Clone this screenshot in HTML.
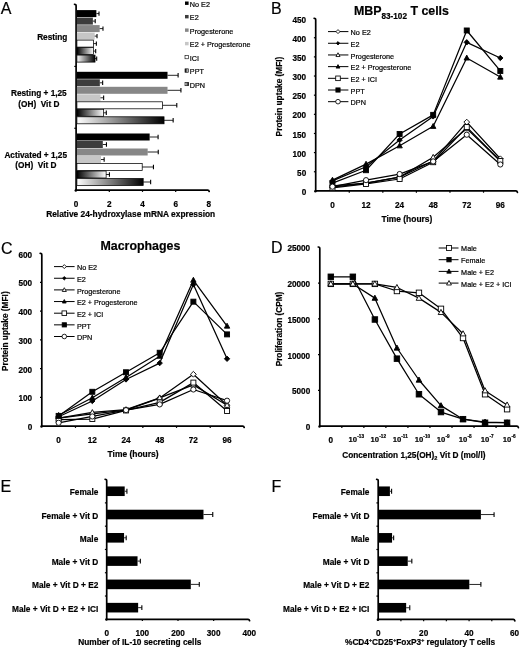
<!DOCTYPE html>
<html><head><meta charset="utf-8"><style>
html,body{margin:0;padding:0;background:#fff;width:520px;height:647px;overflow:hidden}
svg{display:block;filter:blur(0.3px)}
text{font-family:"Liberation Sans", sans-serif;fill:#000;stroke:#000;stroke-width:0.2px}
</style></head><body>
<svg width="520" height="647" viewBox="0 0 520 647">
<defs>
<linearGradient id="gPPT" x1="0" x2="1" y1="0" y2="0"><stop offset="0" stop-color="#000"/><stop offset="1" stop-color="#fff"/></linearGradient>
<linearGradient id="gDPN" x1="0" x2="1" y1="0" y2="0"><stop offset="0" stop-color="#fff"/><stop offset="1" stop-color="#000"/></linearGradient>
</defs>
<text x="0.80" y="14.30" font-size="16" text-anchor="start">A</text>
<path d="M74.50,4.30 Q76.10,4.20 76.10,5.80 L76.10,190.10" fill="none" stroke="#000" stroke-width="1.7" stroke-linejoin="round" stroke-linecap="round"/>
<path d="M76.10,190.10 L207.70,190.10 Q208.90,190.10 209.20,191.50" fill="none" stroke="#000" stroke-width="1.7" stroke-linejoin="round" stroke-linecap="round"/>
<circle cx="75.80" cy="190.40" r="1.25" fill="#000"/>
<line x1="74.30" y1="66.43" x2="76.10" y2="66.43" stroke="#000" stroke-width="1.2"/>
<line x1="74.30" y1="128.27" x2="76.10" y2="128.27" stroke="#000" stroke-width="1.2"/>
<line x1="109.30" y1="190.10" x2="109.30" y2="191.90" stroke="#000" stroke-width="1.2"/>
<line x1="142.50" y1="190.10" x2="142.50" y2="191.90" stroke="#000" stroke-width="1.2"/>
<line x1="175.70" y1="190.10" x2="175.70" y2="191.90" stroke="#000" stroke-width="1.2"/>
<text x="76.10" y="206.95" font-size="8.2" font-weight="bold" text-anchor="middle">0</text>
<text x="109.30" y="206.95" font-size="8.2" font-weight="bold" text-anchor="middle">2</text>
<text x="142.50" y="206.95" font-size="8.2" font-weight="bold" text-anchor="middle">4</text>
<text x="175.70" y="206.95" font-size="8.2" font-weight="bold" text-anchor="middle">6</text>
<text x="208.90" y="206.95" font-size="8.2" font-weight="bold" text-anchor="middle">8</text>
<text x="130.70" y="217.31" font-size="8.36" font-weight="bold" text-anchor="middle">Relative 24-hydroxylase mRNA expression</text>
<text x="52.30" y="39.57" font-size="8.25" font-weight="bold" text-anchor="middle">Resting</text>
<text x="38.85" y="96.17" font-size="8.25" font-weight="bold" text-anchor="middle">Resting + 1,25</text>
<text x="38.85" y="107.07" font-size="8.25" font-weight="bold" text-anchor="middle">(OH)&#160; Vit D</text>
<text x="35.70" y="158.27" font-size="8.25" font-weight="bold" text-anchor="middle">Activated + 1,25</text>
<text x="35.90" y="168.37" font-size="8.25" font-weight="bold" text-anchor="middle">(OH)&#160; Vit D</text>
<rect x="76.90" y="10.10" width="19.46" height="7.00" fill="#000"/>
<line x1="96.36" y1="13.60" x2="99.00" y2="13.60" stroke="#000" stroke-width="0.85"/>
<line x1="99.00" y1="11.40" x2="99.00" y2="15.80" stroke="#000" stroke-width="1.1"/>
<rect x="76.90" y="17.60" width="15.98" height="7.00" fill="#3c3c3c"/>
<line x1="92.88" y1="21.10" x2="95.20" y2="21.10" stroke="#000" stroke-width="0.85"/>
<line x1="95.20" y1="18.90" x2="95.20" y2="23.30" stroke="#000" stroke-width="1.1"/>
<rect x="76.90" y="25.10" width="22.77" height="7.00" fill="#878787"/>
<line x1="99.67" y1="28.60" x2="102.98" y2="28.60" stroke="#000" stroke-width="0.85"/>
<line x1="102.98" y1="26.40" x2="102.98" y2="30.80" stroke="#000" stroke-width="1.1"/>
<rect x="76.90" y="32.60" width="17.80" height="7.00" fill="#c6c6c6"/>
<line x1="94.70" y1="36.10" x2="97.02" y2="36.10" stroke="#000" stroke-width="0.85"/>
<line x1="97.02" y1="33.90" x2="97.02" y2="38.30" stroke="#000" stroke-width="1.1"/>
<rect x="76.90" y="40.10" width="16.64" height="7.00" fill="#fff" stroke="#000" stroke-width="0.75"/>
<line x1="93.54" y1="43.60" x2="96.36" y2="43.60" stroke="#000" stroke-width="0.85"/>
<line x1="96.36" y1="41.40" x2="96.36" y2="45.80" stroke="#000" stroke-width="1.1"/>
<rect x="76.90" y="47.60" width="16.64" height="7.00" fill="url(#gPPT)" stroke="#000" stroke-width="0.75"/>
<line x1="93.54" y1="51.10" x2="95.69" y2="51.10" stroke="#000" stroke-width="0.85"/>
<line x1="95.69" y1="48.90" x2="95.69" y2="53.30" stroke="#000" stroke-width="1.1"/>
<rect x="76.90" y="55.10" width="18.13" height="7.00" fill="url(#gDPN)" stroke="#000" stroke-width="0.75"/>
<line x1="95.03" y1="58.60" x2="96.69" y2="58.60" stroke="#000" stroke-width="0.85"/>
<line x1="96.69" y1="56.40" x2="96.69" y2="60.80" stroke="#000" stroke-width="1.1"/>
<rect x="76.90" y="71.80" width="90.62" height="7.00" fill="#000"/>
<line x1="167.52" y1="75.30" x2="178.11" y2="75.30" stroke="#000" stroke-width="0.85"/>
<line x1="178.11" y1="73.10" x2="178.11" y2="77.50" stroke="#000" stroke-width="1.1"/>
<rect x="76.90" y="79.30" width="22.93" height="7.00" fill="#3c3c3c"/>
<line x1="99.83" y1="82.80" x2="102.65" y2="82.80" stroke="#000" stroke-width="0.85"/>
<line x1="102.65" y1="80.60" x2="102.65" y2="85.00" stroke="#000" stroke-width="1.1"/>
<rect x="76.90" y="86.80" width="90.62" height="7.00" fill="#878787"/>
<line x1="167.52" y1="90.30" x2="180.93" y2="90.30" stroke="#000" stroke-width="0.85"/>
<line x1="180.93" y1="88.10" x2="180.93" y2="92.50" stroke="#000" stroke-width="1.1"/>
<rect x="76.90" y="94.30" width="23.59" height="7.00" fill="#c6c6c6"/>
<line x1="100.49" y1="97.80" x2="103.64" y2="97.80" stroke="#000" stroke-width="0.85"/>
<line x1="103.64" y1="95.60" x2="103.64" y2="100.00" stroke="#000" stroke-width="1.1"/>
<rect x="76.90" y="101.80" width="85.66" height="7.00" fill="#fff" stroke="#000" stroke-width="0.75"/>
<line x1="162.56" y1="105.30" x2="176.79" y2="105.30" stroke="#000" stroke-width="0.85"/>
<line x1="176.79" y1="103.10" x2="176.79" y2="107.50" stroke="#000" stroke-width="1.1"/>
<rect x="76.90" y="109.30" width="26.74" height="7.00" fill="url(#gPPT)" stroke="#000" stroke-width="0.75"/>
<line x1="103.64" y1="112.80" x2="106.29" y2="112.80" stroke="#000" stroke-width="0.85"/>
<line x1="106.29" y1="110.60" x2="106.29" y2="115.00" stroke="#000" stroke-width="1.1"/>
<rect x="76.90" y="116.80" width="87.15" height="7.00" fill="url(#gDPN)" stroke="#000" stroke-width="0.75"/>
<line x1="164.05" y1="120.30" x2="173.15" y2="120.30" stroke="#000" stroke-width="0.85"/>
<line x1="173.15" y1="118.10" x2="173.15" y2="122.50" stroke="#000" stroke-width="1.1"/>
<rect x="76.90" y="133.50" width="72.75" height="7.00" fill="#000"/>
<line x1="149.65" y1="137.00" x2="158.09" y2="137.00" stroke="#000" stroke-width="0.85"/>
<line x1="158.09" y1="134.80" x2="158.09" y2="139.20" stroke="#000" stroke-width="1.1"/>
<rect x="76.90" y="141.00" width="25.91" height="7.00" fill="#3c3c3c"/>
<line x1="102.81" y1="144.50" x2="106.45" y2="144.50" stroke="#000" stroke-width="0.85"/>
<line x1="106.45" y1="142.30" x2="106.45" y2="146.70" stroke="#000" stroke-width="1.1"/>
<rect x="76.90" y="148.50" width="70.76" height="7.00" fill="#878787"/>
<line x1="147.66" y1="152.00" x2="158.25" y2="152.00" stroke="#000" stroke-width="0.85"/>
<line x1="158.25" y1="149.80" x2="158.25" y2="154.20" stroke="#000" stroke-width="1.1"/>
<rect x="76.90" y="156.00" width="24.09" height="7.00" fill="#c6c6c6"/>
<line x1="100.99" y1="159.50" x2="104.14" y2="159.50" stroke="#000" stroke-width="0.85"/>
<line x1="104.14" y1="157.30" x2="104.14" y2="161.70" stroke="#000" stroke-width="1.1"/>
<rect x="76.90" y="163.50" width="65.30" height="7.00" fill="#fff" stroke="#000" stroke-width="0.75"/>
<line x1="142.20" y1="167.00" x2="153.45" y2="167.00" stroke="#000" stroke-width="0.85"/>
<line x1="153.45" y1="164.80" x2="153.45" y2="169.20" stroke="#000" stroke-width="1.1"/>
<rect x="76.90" y="171.00" width="29.22" height="7.00" fill="url(#gPPT)" stroke="#000" stroke-width="0.75"/>
<line x1="106.12" y1="174.50" x2="109.43" y2="174.50" stroke="#000" stroke-width="0.85"/>
<line x1="109.43" y1="172.30" x2="109.43" y2="176.70" stroke="#000" stroke-width="1.1"/>
<rect x="76.90" y="178.50" width="66.29" height="7.00" fill="url(#gDPN)" stroke="#000" stroke-width="0.75"/>
<line x1="143.19" y1="182.00" x2="150.64" y2="182.00" stroke="#000" stroke-width="0.85"/>
<line x1="150.64" y1="179.80" x2="150.64" y2="184.20" stroke="#000" stroke-width="1.1"/>
<rect x="185.0" y="1.50" width="3.6" height="3.4" fill="#000"/>
<text x="189.80" y="6.80" font-size="7.25" text-anchor="start">No E2</text>
<rect x="185.0" y="14.97" width="3.6" height="3.4" fill="#3c3c3c"/>
<text x="189.80" y="20.27" font-size="7.25" text-anchor="start">E2</text>
<rect x="185.0" y="28.44" width="3.6" height="3.4" fill="#878787"/>
<text x="189.80" y="33.74" font-size="7.25" text-anchor="start">Progesterone</text>
<rect x="185.0" y="41.91" width="3.6" height="3.4" fill="#c6c6c6"/>
<text x="189.80" y="47.21" font-size="7.25" text-anchor="start">E2 + Progesterone</text>
<rect x="185.0" y="55.38" width="3.6" height="3.4" fill="#fff" stroke="#000" stroke-width="0.6"/>
<text x="189.80" y="60.68" font-size="7.25" text-anchor="start">ICI</text>
<rect x="185.0" y="68.85" width="3.6" height="3.4" fill="url(#gPPT)" stroke="#000" stroke-width="0.6"/>
<text x="189.80" y="74.15" font-size="7.25" text-anchor="start">PPT</text>
<rect x="185.0" y="82.32" width="3.6" height="3.4" fill="url(#gDPN)" stroke="#000" stroke-width="0.6"/>
<text x="189.80" y="87.62" font-size="7.25" text-anchor="start">DPN</text>
<text x="271.00" y="13.90" font-size="16" text-anchor="start">B</text>
<text x="353.9" y="14.9" font-size="12.4" font-weight="bold">MBP<tspan font-size="8.2" dy="3.6">83-102</tspan><tspan dy="-3.6"> T cells</tspan></text>
<path d="M314.10,18.30 Q315.70,18.20 315.70,19.80 L315.70,190.90" fill="none" stroke="#000" stroke-width="1.7" stroke-linejoin="round" stroke-linecap="round"/>
<path d="M315.70,190.90 L515.90,190.90 Q517.10,190.90 517.40,192.30" fill="none" stroke="#000" stroke-width="1.7" stroke-linejoin="round" stroke-linecap="round"/>
<circle cx="315.40" cy="191.20" r="1.25" fill="#000"/>
<text x="306.20" y="194.95" font-size="8.2" font-weight="bold" text-anchor="end">0</text>
<line x1="313.90" y1="171.76" x2="315.70" y2="171.76" stroke="#000" stroke-width="1.2"/>
<text x="306.20" y="175.81" font-size="8.2" font-weight="bold" text-anchor="end">50</text>
<line x1="313.90" y1="152.61" x2="315.70" y2="152.61" stroke="#000" stroke-width="1.2"/>
<text x="306.20" y="156.66" font-size="8.2" font-weight="bold" text-anchor="end">100</text>
<line x1="313.90" y1="133.47" x2="315.70" y2="133.47" stroke="#000" stroke-width="1.2"/>
<text x="306.20" y="137.52" font-size="8.2" font-weight="bold" text-anchor="end">150</text>
<line x1="313.90" y1="114.32" x2="315.70" y2="114.32" stroke="#000" stroke-width="1.2"/>
<text x="306.20" y="118.37" font-size="8.2" font-weight="bold" text-anchor="end">200</text>
<line x1="313.90" y1="95.18" x2="315.70" y2="95.18" stroke="#000" stroke-width="1.2"/>
<text x="306.20" y="99.23" font-size="8.2" font-weight="bold" text-anchor="end">250</text>
<line x1="313.90" y1="76.03" x2="315.70" y2="76.03" stroke="#000" stroke-width="1.2"/>
<text x="306.20" y="80.09" font-size="8.2" font-weight="bold" text-anchor="end">300</text>
<line x1="313.90" y1="56.89" x2="315.70" y2="56.89" stroke="#000" stroke-width="1.2"/>
<text x="306.20" y="60.94" font-size="8.2" font-weight="bold" text-anchor="end">350</text>
<line x1="313.90" y1="37.74" x2="315.70" y2="37.74" stroke="#000" stroke-width="1.2"/>
<text x="306.20" y="41.80" font-size="8.2" font-weight="bold" text-anchor="end">400</text>
<text x="306.20" y="22.65" font-size="8.2" font-weight="bold" text-anchor="end">450</text>
<line x1="349.27" y1="190.90" x2="349.27" y2="192.70" stroke="#000" stroke-width="1.2"/>
<line x1="382.83" y1="190.90" x2="382.83" y2="192.70" stroke="#000" stroke-width="1.2"/>
<line x1="416.40" y1="190.90" x2="416.40" y2="192.70" stroke="#000" stroke-width="1.2"/>
<line x1="449.97" y1="190.90" x2="449.97" y2="192.70" stroke="#000" stroke-width="1.2"/>
<line x1="483.53" y1="190.90" x2="483.53" y2="192.70" stroke="#000" stroke-width="1.2"/>
<polyline points="332.48,187.02 366.05,183.20 399.62,177.09 433.18,161.06 466.75,122.11 500.32,158.77" fill="none" stroke="#000" stroke-width="1.25" stroke-linejoin="round"/>
<polyline points="332.48,180.91 366.05,166.78 399.62,140.06 433.18,116.39 466.75,42.32 500.32,57.97" fill="none" stroke="#000" stroke-width="1.25" stroke-linejoin="round"/>
<polyline points="332.48,185.87 366.05,183.20 399.62,177.09 433.18,157.24 466.75,128.60 500.32,161.06" fill="none" stroke="#000" stroke-width="1.25" stroke-linejoin="round"/>
<polyline points="332.48,180.15 366.05,164.11 399.62,145.78 433.18,126.31 466.75,57.97 500.32,77.06" fill="none" stroke="#000" stroke-width="1.25" stroke-linejoin="round"/>
<polyline points="332.48,187.78 366.05,183.96 399.62,179.00 433.18,162.20 466.75,127.08 500.32,161.06" fill="none" stroke="#000" stroke-width="1.25" stroke-linejoin="round"/>
<polyline points="332.48,183.20 366.05,170.22 399.62,133.95 433.18,114.86 466.75,30.48 500.32,70.95" fill="none" stroke="#000" stroke-width="1.25" stroke-linejoin="round"/>
<polyline points="332.48,186.64 366.05,180.15 399.62,174.04 433.18,161.44 466.75,134.71 500.32,164.49" fill="none" stroke="#000" stroke-width="1.25" stroke-linejoin="round"/>
<polygon points="332.48,184.12 335.38,187.02 332.48,189.92 329.58,187.02" fill="#fff" stroke="#000" stroke-width="0.9"/>
<polygon points="366.05,180.30 368.95,183.20 366.05,186.10 363.15,183.20" fill="#fff" stroke="#000" stroke-width="0.9"/>
<polygon points="399.62,174.19 402.52,177.09 399.62,179.99 396.72,177.09" fill="#fff" stroke="#000" stroke-width="0.9"/>
<polygon points="433.18,158.16 436.08,161.06 433.18,163.96 430.28,161.06" fill="#fff" stroke="#000" stroke-width="0.9"/>
<polygon points="466.75,119.21 469.65,122.11 466.75,125.01 463.85,122.11" fill="#fff" stroke="#000" stroke-width="0.9"/>
<polygon points="500.32,155.87 503.22,158.77 500.32,161.67 497.42,158.77" fill="#fff" stroke="#000" stroke-width="0.9"/>
<polygon points="332.48,178.21 335.18,180.91 332.48,183.61 329.78,180.91" fill="#000" stroke="#000" stroke-width="0.9"/>
<polygon points="366.05,164.08 368.75,166.78 366.05,169.48 363.35,166.78" fill="#000" stroke="#000" stroke-width="0.9"/>
<polygon points="399.62,137.36 402.32,140.06 399.62,142.76 396.92,140.06" fill="#000" stroke="#000" stroke-width="0.9"/>
<polygon points="433.18,113.69 435.88,116.39 433.18,119.09 430.48,116.39" fill="#000" stroke="#000" stroke-width="0.9"/>
<polygon points="466.75,39.62 469.45,42.32 466.75,45.02 464.05,42.32" fill="#000" stroke="#000" stroke-width="0.9"/>
<polygon points="500.32,55.27 503.02,57.97 500.32,60.67 497.62,57.97" fill="#000" stroke="#000" stroke-width="0.9"/>
<polygon points="332.48,182.99 335.18,187.96 329.78,187.96" fill="#fff" stroke="#000" stroke-width="0.9" stroke-linejoin="miter"/>
<polygon points="366.05,180.32 368.75,185.29 363.35,185.29" fill="#fff" stroke="#000" stroke-width="0.9" stroke-linejoin="miter"/>
<polygon points="399.62,174.21 402.32,179.18 396.92,179.18" fill="#fff" stroke="#000" stroke-width="0.9" stroke-linejoin="miter"/>
<polygon points="433.18,154.36 435.88,159.32 430.48,159.32" fill="#fff" stroke="#000" stroke-width="0.9" stroke-linejoin="miter"/>
<polygon points="466.75,125.72 469.45,130.69 464.05,130.69" fill="#fff" stroke="#000" stroke-width="0.9" stroke-linejoin="miter"/>
<polygon points="500.32,158.17 503.02,163.14 497.62,163.14" fill="#fff" stroke="#000" stroke-width="0.9" stroke-linejoin="miter"/>
<polygon points="332.48,177.26 335.18,182.23 329.78,182.23" fill="#000" stroke="#000" stroke-width="0.9" stroke-linejoin="miter"/>
<polygon points="366.05,161.23 368.75,166.20 363.35,166.20" fill="#000" stroke="#000" stroke-width="0.9" stroke-linejoin="miter"/>
<polygon points="399.62,142.90 402.32,147.87 396.92,147.87" fill="#000" stroke="#000" stroke-width="0.9" stroke-linejoin="miter"/>
<polygon points="433.18,123.43 435.88,128.40 430.48,128.40" fill="#000" stroke="#000" stroke-width="0.9" stroke-linejoin="miter"/>
<polygon points="466.75,55.09 469.45,60.06 464.05,60.06" fill="#000" stroke="#000" stroke-width="0.9" stroke-linejoin="miter"/>
<polygon points="500.32,74.18 503.02,79.15 497.62,79.15" fill="#000" stroke="#000" stroke-width="0.9" stroke-linejoin="miter"/>
<rect x="329.98" y="185.28" width="5.00" height="5.00" fill="#fff" stroke="#000" stroke-width="0.9"/>
<rect x="363.55" y="181.46" width="5.00" height="5.00" fill="#fff" stroke="#000" stroke-width="0.9"/>
<rect x="397.12" y="176.50" width="5.00" height="5.00" fill="#fff" stroke="#000" stroke-width="0.9"/>
<rect x="430.68" y="159.70" width="5.00" height="5.00" fill="#fff" stroke="#000" stroke-width="0.9"/>
<rect x="464.25" y="124.58" width="5.00" height="5.00" fill="#fff" stroke="#000" stroke-width="0.9"/>
<rect x="497.82" y="158.56" width="5.00" height="5.00" fill="#fff" stroke="#000" stroke-width="0.9"/>
<rect x="329.98" y="180.70" width="5.00" height="5.00" fill="#000" stroke="#000" stroke-width="0.9"/>
<rect x="363.55" y="167.72" width="5.00" height="5.00" fill="#000" stroke="#000" stroke-width="0.9"/>
<rect x="397.12" y="131.45" width="5.00" height="5.00" fill="#000" stroke="#000" stroke-width="0.9"/>
<rect x="430.68" y="112.36" width="5.00" height="5.00" fill="#000" stroke="#000" stroke-width="0.9"/>
<rect x="464.25" y="27.98" width="5.00" height="5.00" fill="#000" stroke="#000" stroke-width="0.9"/>
<rect x="497.82" y="68.45" width="5.00" height="5.00" fill="#000" stroke="#000" stroke-width="0.9"/>
<circle cx="332.48" cy="186.64" r="2.60" fill="#fff" stroke="#000" stroke-width="0.9"/>
<circle cx="366.05" cy="180.15" r="2.60" fill="#fff" stroke="#000" stroke-width="0.9"/>
<circle cx="399.62" cy="174.04" r="2.60" fill="#fff" stroke="#000" stroke-width="0.9"/>
<circle cx="433.18" cy="161.44" r="2.60" fill="#fff" stroke="#000" stroke-width="0.9"/>
<circle cx="466.75" cy="134.71" r="2.60" fill="#fff" stroke="#000" stroke-width="0.9"/>
<circle cx="500.32" cy="164.49" r="2.60" fill="#fff" stroke="#000" stroke-width="0.9"/>
<line x1="328.00" y1="31.60" x2="348.40" y2="31.60" stroke="#000" stroke-width="1.0"/>
<polygon points="338.00,29.60 340.00,31.60 338.00,33.60 336.00,31.60" fill="#fff" stroke="#000" stroke-width="0.85"/>
<text x="350.60" y="35.31" font-size="7.25" text-anchor="start">No E2</text>
<line x1="328.00" y1="43.28" x2="348.40" y2="43.28" stroke="#000" stroke-width="1.0"/>
<polygon points="338.00,41.58 339.70,43.28 338.00,44.98 336.30,43.28" fill="#000" stroke="#000" stroke-width="0.85"/>
<text x="350.60" y="46.99" font-size="7.25" text-anchor="start">E2</text>
<line x1="328.00" y1="54.96" x2="348.40" y2="54.96" stroke="#000" stroke-width="1.0"/>
<polygon points="338.00,52.77 340.05,56.54 335.95,56.54" fill="#fff" stroke="#000" stroke-width="0.85" stroke-linejoin="miter"/>
<text x="350.60" y="58.67" font-size="7.25" text-anchor="start">Progesterone</text>
<line x1="328.00" y1="66.64" x2="348.40" y2="66.64" stroke="#000" stroke-width="1.0"/>
<polygon points="338.00,64.61 339.90,68.11 336.10,68.11" fill="#000" stroke="#000" stroke-width="0.85" stroke-linejoin="miter"/>
<text x="350.60" y="70.35" font-size="7.25" text-anchor="start">E2 + Progesterone</text>
<line x1="328.00" y1="78.32" x2="348.40" y2="78.32" stroke="#000" stroke-width="1.0"/>
<rect x="335.70" y="76.02" width="4.60" height="4.60" fill="#fff" stroke="#000" stroke-width="0.85"/>
<text x="350.60" y="82.03" font-size="7.25" text-anchor="start">E2 + ICI</text>
<line x1="328.00" y1="90.00" x2="348.40" y2="90.00" stroke="#000" stroke-width="1.0"/>
<rect x="335.90" y="87.90" width="4.20" height="4.20" fill="#000" stroke="#000" stroke-width="0.85"/>
<text x="350.60" y="93.71" font-size="7.25" text-anchor="start">PPT</text>
<line x1="328.00" y1="101.68" x2="348.40" y2="101.68" stroke="#000" stroke-width="1.0"/>
<circle cx="338.00" cy="101.68" r="2.30" fill="#fff" stroke="#000" stroke-width="0.85"/>
<text x="350.60" y="105.39" font-size="7.25" text-anchor="start">DPN</text>
<text x="332.48" y="207.95" font-size="8.2" font-weight="bold" text-anchor="middle">0</text>
<text x="366.05" y="207.95" font-size="8.2" font-weight="bold" text-anchor="middle">12</text>
<text x="399.62" y="207.95" font-size="8.2" font-weight="bold" text-anchor="middle">24</text>
<text x="433.18" y="207.95" font-size="8.2" font-weight="bold" text-anchor="middle">48</text>
<text x="466.75" y="207.95" font-size="8.2" font-weight="bold" text-anchor="middle">72</text>
<text x="500.32" y="207.95" font-size="8.2" font-weight="bold" text-anchor="middle">96</text>
<text x="406.90" y="221.84" font-size="8.45" font-weight="bold" text-anchor="middle">Time (hours)</text>
<text transform="translate(282.2,96.5) rotate(-90)" x="0" y="0" font-size="8.3" font-weight="bold" text-anchor="middle">Protein uptake (MFI)</text>
<text x="1.00" y="254.30" font-size="16" text-anchor="start">C</text>
<text x="140.40" y="249.70" font-size="12.4" font-weight="bold" text-anchor="middle">Macrophages</text>
<path d="M40.20,253.40 Q41.80,253.30 41.80,254.90 L41.80,426.10" fill="none" stroke="#000" stroke-width="1.7" stroke-linejoin="round" stroke-linecap="round"/>
<path d="M41.80,426.10 L242.70,426.10 Q243.90,426.10 244.20,427.50" fill="none" stroke="#000" stroke-width="1.7" stroke-linejoin="round" stroke-linecap="round"/>
<circle cx="41.50" cy="426.40" r="1.25" fill="#000"/>
<text x="32.20" y="430.15" font-size="8.2" font-weight="bold" text-anchor="end">0</text>
<line x1="40.00" y1="397.37" x2="41.80" y2="397.37" stroke="#000" stroke-width="1.2"/>
<text x="32.20" y="401.42" font-size="8.2" font-weight="bold" text-anchor="end">100</text>
<line x1="40.00" y1="368.63" x2="41.80" y2="368.63" stroke="#000" stroke-width="1.2"/>
<text x="32.20" y="372.69" font-size="8.2" font-weight="bold" text-anchor="end">200</text>
<line x1="40.00" y1="339.90" x2="41.80" y2="339.90" stroke="#000" stroke-width="1.2"/>
<text x="32.20" y="343.95" font-size="8.2" font-weight="bold" text-anchor="end">300</text>
<line x1="40.00" y1="311.17" x2="41.80" y2="311.17" stroke="#000" stroke-width="1.2"/>
<text x="32.20" y="315.22" font-size="8.2" font-weight="bold" text-anchor="end">400</text>
<line x1="40.00" y1="282.43" x2="41.80" y2="282.43" stroke="#000" stroke-width="1.2"/>
<text x="32.20" y="286.49" font-size="8.2" font-weight="bold" text-anchor="end">500</text>
<text x="32.20" y="257.75" font-size="8.2" font-weight="bold" text-anchor="end">600</text>
<line x1="75.48" y1="426.10" x2="75.48" y2="427.90" stroke="#000" stroke-width="1.2"/>
<line x1="109.17" y1="426.10" x2="109.17" y2="427.90" stroke="#000" stroke-width="1.2"/>
<line x1="142.85" y1="426.10" x2="142.85" y2="427.90" stroke="#000" stroke-width="1.2"/>
<line x1="176.53" y1="426.10" x2="176.53" y2="427.90" stroke="#000" stroke-width="1.2"/>
<line x1="210.22" y1="426.10" x2="210.22" y2="427.90" stroke="#000" stroke-width="1.2"/>
<polyline points="58.64,418.19 92.33,413.88 126.01,410.15 159.69,398.10 193.38,374.28 227.06,405.28" fill="none" stroke="#000" stroke-width="1.25" stroke-linejoin="round"/>
<polyline points="58.64,416.75 92.33,400.97 126.01,379.44 159.69,363.09 193.38,284.45 227.06,358.78" fill="none" stroke="#000" stroke-width="1.25" stroke-linejoin="round"/>
<polyline points="58.64,418.19 92.33,412.45 126.01,409.58 159.69,397.81 193.38,384.90 227.06,405.28" fill="none" stroke="#000" stroke-width="1.25" stroke-linejoin="round"/>
<polyline points="58.64,415.32 92.33,397.81 126.01,377.44 159.69,356.20 193.38,280.14 227.06,326.06" fill="none" stroke="#000" stroke-width="1.25" stroke-linejoin="round"/>
<polyline points="58.64,419.62 92.33,419.05 126.01,410.44 159.69,402.41 193.38,382.60 227.06,411.01" fill="none" stroke="#000" stroke-width="1.25" stroke-linejoin="round"/>
<polyline points="58.64,415.89 92.33,391.79 126.01,372.27 159.69,352.75 193.38,301.67 227.06,334.39" fill="none" stroke="#000" stroke-width="1.25" stroke-linejoin="round"/>
<polyline points="58.64,422.78 92.33,416.47 126.01,410.15 159.69,404.41 193.38,389.49 227.06,400.68" fill="none" stroke="#000" stroke-width="1.25" stroke-linejoin="round"/>
<polygon points="58.64,415.29 61.54,418.19 58.64,421.09 55.74,418.19" fill="#fff" stroke="#000" stroke-width="0.9"/>
<polygon points="92.33,410.99 95.23,413.88 92.33,416.78 89.42,413.88" fill="#fff" stroke="#000" stroke-width="0.9"/>
<polygon points="126.01,407.25 128.91,410.15 126.01,413.05 123.11,410.15" fill="#fff" stroke="#000" stroke-width="0.9"/>
<polygon points="159.69,395.20 162.59,398.10 159.69,401.00 156.79,398.10" fill="#fff" stroke="#000" stroke-width="0.9"/>
<polygon points="193.38,371.38 196.28,374.28 193.38,377.18 190.47,374.28" fill="#fff" stroke="#000" stroke-width="0.9"/>
<polygon points="227.06,402.38 229.96,405.28 227.06,408.18 224.16,405.28" fill="#fff" stroke="#000" stroke-width="0.9"/>
<polygon points="58.64,414.06 61.34,416.75 58.64,419.45 55.94,416.75" fill="#000" stroke="#000" stroke-width="0.9"/>
<polygon points="92.33,398.27 95.03,400.97 92.33,403.67 89.62,400.97" fill="#000" stroke="#000" stroke-width="0.9"/>
<polygon points="126.01,376.75 128.71,379.44 126.01,382.14 123.31,379.44" fill="#000" stroke="#000" stroke-width="0.9"/>
<polygon points="159.69,360.39 162.39,363.09 159.69,365.79 156.99,363.09" fill="#000" stroke="#000" stroke-width="0.9"/>
<polygon points="193.38,281.75 196.07,284.45 193.38,287.15 190.68,284.45" fill="#000" stroke="#000" stroke-width="0.9"/>
<polygon points="227.06,356.08 229.76,358.78 227.06,361.48 224.36,358.78" fill="#000" stroke="#000" stroke-width="0.9"/>
<polygon points="58.64,415.31 61.34,420.28 55.94,420.28" fill="#fff" stroke="#000" stroke-width="0.9" stroke-linejoin="miter"/>
<polygon points="92.33,409.57 95.03,414.54 89.62,414.54" fill="#fff" stroke="#000" stroke-width="0.9" stroke-linejoin="miter"/>
<polygon points="126.01,406.70 128.71,411.67 123.31,411.67" fill="#fff" stroke="#000" stroke-width="0.9" stroke-linejoin="miter"/>
<polygon points="159.69,394.93 162.39,399.90 156.99,399.90" fill="#fff" stroke="#000" stroke-width="0.9" stroke-linejoin="miter"/>
<polygon points="193.38,382.02 196.07,386.98 190.68,386.98" fill="#fff" stroke="#000" stroke-width="0.9" stroke-linejoin="miter"/>
<polygon points="227.06,402.39 229.76,407.36 224.36,407.36" fill="#fff" stroke="#000" stroke-width="0.9" stroke-linejoin="miter"/>
<polygon points="58.64,412.44 61.34,417.41 55.94,417.41" fill="#000" stroke="#000" stroke-width="0.9" stroke-linejoin="miter"/>
<polygon points="92.33,394.93 95.03,399.90 89.62,399.90" fill="#000" stroke="#000" stroke-width="0.9" stroke-linejoin="miter"/>
<polygon points="126.01,374.55 128.71,379.52 123.31,379.52" fill="#000" stroke="#000" stroke-width="0.9" stroke-linejoin="miter"/>
<polygon points="159.69,353.32 162.39,358.28 156.99,358.28" fill="#000" stroke="#000" stroke-width="0.9" stroke-linejoin="miter"/>
<polygon points="193.38,277.26 196.07,282.23 190.68,282.23" fill="#000" stroke="#000" stroke-width="0.9" stroke-linejoin="miter"/>
<polygon points="227.06,323.18 229.76,328.15 224.36,328.15" fill="#000" stroke="#000" stroke-width="0.9" stroke-linejoin="miter"/>
<rect x="56.14" y="417.12" width="5.00" height="5.00" fill="#fff" stroke="#000" stroke-width="0.9"/>
<rect x="89.83" y="416.55" width="5.00" height="5.00" fill="#fff" stroke="#000" stroke-width="0.9"/>
<rect x="123.51" y="407.94" width="5.00" height="5.00" fill="#fff" stroke="#000" stroke-width="0.9"/>
<rect x="157.19" y="399.91" width="5.00" height="5.00" fill="#fff" stroke="#000" stroke-width="0.9"/>
<rect x="190.88" y="380.10" width="5.00" height="5.00" fill="#fff" stroke="#000" stroke-width="0.9"/>
<rect x="224.56" y="408.51" width="5.00" height="5.00" fill="#fff" stroke="#000" stroke-width="0.9"/>
<rect x="56.14" y="413.39" width="5.00" height="5.00" fill="#000" stroke="#000" stroke-width="0.9"/>
<rect x="89.83" y="389.29" width="5.00" height="5.00" fill="#000" stroke="#000" stroke-width="0.9"/>
<rect x="123.51" y="369.77" width="5.00" height="5.00" fill="#000" stroke="#000" stroke-width="0.9"/>
<rect x="157.19" y="350.25" width="5.00" height="5.00" fill="#000" stroke="#000" stroke-width="0.9"/>
<rect x="190.88" y="299.17" width="5.00" height="5.00" fill="#000" stroke="#000" stroke-width="0.9"/>
<rect x="224.56" y="331.89" width="5.00" height="5.00" fill="#000" stroke="#000" stroke-width="0.9"/>
<circle cx="58.64" cy="422.78" r="2.60" fill="#fff" stroke="#000" stroke-width="0.9"/>
<circle cx="92.33" cy="416.47" r="2.60" fill="#fff" stroke="#000" stroke-width="0.9"/>
<circle cx="126.01" cy="410.15" r="2.60" fill="#fff" stroke="#000" stroke-width="0.9"/>
<circle cx="159.69" cy="404.41" r="2.60" fill="#fff" stroke="#000" stroke-width="0.9"/>
<circle cx="193.38" cy="389.49" r="2.60" fill="#fff" stroke="#000" stroke-width="0.9"/>
<circle cx="227.06" cy="400.68" r="2.60" fill="#fff" stroke="#000" stroke-width="0.9"/>
<line x1="54.00" y1="266.60" x2="74.60" y2="266.60" stroke="#000" stroke-width="1.0"/>
<polygon points="64.30,264.60 66.30,266.60 64.30,268.60 62.30,266.60" fill="#fff" stroke="#000" stroke-width="0.85"/>
<text x="76.90" y="270.31" font-size="7.25" text-anchor="start">No E2</text>
<line x1="54.00" y1="278.25" x2="74.60" y2="278.25" stroke="#000" stroke-width="1.0"/>
<polygon points="64.30,276.55 66.00,278.25 64.30,279.95 62.60,278.25" fill="#000" stroke="#000" stroke-width="0.85"/>
<text x="76.90" y="281.96" font-size="7.25" text-anchor="start">E2</text>
<line x1="54.00" y1="289.90" x2="74.60" y2="289.90" stroke="#000" stroke-width="1.0"/>
<polygon points="64.30,287.71 66.35,291.48 62.25,291.48" fill="#fff" stroke="#000" stroke-width="0.85" stroke-linejoin="miter"/>
<text x="76.90" y="293.61" font-size="7.25" text-anchor="start">Progesterone</text>
<line x1="54.00" y1="301.55" x2="74.60" y2="301.55" stroke="#000" stroke-width="1.0"/>
<polygon points="64.30,299.52 66.20,303.02 62.40,303.02" fill="#000" stroke="#000" stroke-width="0.85" stroke-linejoin="miter"/>
<text x="76.90" y="305.26" font-size="7.25" text-anchor="start">E2 + Progesterone</text>
<line x1="54.00" y1="313.20" x2="74.60" y2="313.20" stroke="#000" stroke-width="1.0"/>
<rect x="62.00" y="310.90" width="4.60" height="4.60" fill="#fff" stroke="#000" stroke-width="0.85"/>
<text x="76.90" y="316.91" font-size="7.25" text-anchor="start">E2 + ICI</text>
<line x1="54.00" y1="324.85" x2="74.60" y2="324.85" stroke="#000" stroke-width="1.0"/>
<rect x="62.20" y="322.75" width="4.20" height="4.20" fill="#000" stroke="#000" stroke-width="0.85"/>
<text x="76.90" y="328.56" font-size="7.25" text-anchor="start">PPT</text>
<line x1="54.00" y1="336.50" x2="74.60" y2="336.50" stroke="#000" stroke-width="1.0"/>
<circle cx="64.30" cy="336.50" r="2.30" fill="#fff" stroke="#000" stroke-width="0.85"/>
<text x="76.90" y="340.21" font-size="7.25" text-anchor="start">DPN</text>
<text x="58.64" y="443.15" font-size="8.2" font-weight="bold" text-anchor="middle">0</text>
<text x="92.33" y="443.15" font-size="8.2" font-weight="bold" text-anchor="middle">12</text>
<text x="126.01" y="443.15" font-size="8.2" font-weight="bold" text-anchor="middle">24</text>
<text x="159.69" y="443.15" font-size="8.2" font-weight="bold" text-anchor="middle">48</text>
<text x="193.38" y="443.15" font-size="8.2" font-weight="bold" text-anchor="middle">72</text>
<text x="227.06" y="443.15" font-size="8.2" font-weight="bold" text-anchor="middle">96</text>
<text x="133.10" y="456.54" font-size="8.45" font-weight="bold" text-anchor="middle">Time (hours)</text>
<text transform="translate(8.0,331.2) rotate(-90)" x="0" y="0" font-size="8.3" font-weight="bold" text-anchor="middle">Protein uptake (MFI)</text>
<text x="271.00" y="252.80" font-size="16" text-anchor="start">D</text>
<path d="M318.20,247.00 Q319.80,246.90 319.80,248.50 L319.80,426.20" fill="none" stroke="#000" stroke-width="1.7" stroke-linejoin="round" stroke-linecap="round"/>
<path d="M319.80,426.20 L516.90,426.20 Q518.10,426.20 518.40,427.60" fill="none" stroke="#000" stroke-width="1.7" stroke-linejoin="round" stroke-linecap="round"/>
<circle cx="319.50" cy="426.50" r="1.25" fill="#000"/>
<text x="310.20" y="430.25" font-size="8.2" font-weight="bold" text-anchor="end">0</text>
<line x1="318.00" y1="390.42" x2="319.80" y2="390.42" stroke="#000" stroke-width="1.2"/>
<text x="310.20" y="394.47" font-size="8.2" font-weight="bold" text-anchor="end">5000</text>
<line x1="318.00" y1="354.64" x2="319.80" y2="354.64" stroke="#000" stroke-width="1.2"/>
<text x="310.20" y="358.69" font-size="8.2" font-weight="bold" text-anchor="end">10000</text>
<line x1="318.00" y1="318.86" x2="319.80" y2="318.86" stroke="#000" stroke-width="1.2"/>
<text x="310.20" y="322.91" font-size="8.2" font-weight="bold" text-anchor="end">15000</text>
<line x1="318.00" y1="283.08" x2="319.80" y2="283.08" stroke="#000" stroke-width="1.2"/>
<text x="310.20" y="287.13" font-size="8.2" font-weight="bold" text-anchor="end">20000</text>
<text x="310.20" y="251.35" font-size="8.2" font-weight="bold" text-anchor="end">25000</text>
<line x1="341.83" y1="426.20" x2="341.83" y2="428.00" stroke="#000" stroke-width="1.2"/>
<line x1="363.87" y1="426.20" x2="363.87" y2="428.00" stroke="#000" stroke-width="1.2"/>
<line x1="385.90" y1="426.20" x2="385.90" y2="428.00" stroke="#000" stroke-width="1.2"/>
<line x1="407.93" y1="426.20" x2="407.93" y2="428.00" stroke="#000" stroke-width="1.2"/>
<line x1="429.97" y1="426.20" x2="429.97" y2="428.00" stroke="#000" stroke-width="1.2"/>
<line x1="452.00" y1="426.20" x2="452.00" y2="428.00" stroke="#000" stroke-width="1.2"/>
<line x1="474.03" y1="426.20" x2="474.03" y2="428.00" stroke="#000" stroke-width="1.2"/>
<line x1="496.07" y1="426.20" x2="496.07" y2="428.00" stroke="#000" stroke-width="1.2"/>
<polyline points="330.82,283.90 352.85,283.90 374.88,283.90 396.92,291.02 418.95,292.80 440.98,308.82 463.02,338.01 485.05,394.26 507.08,409.21" fill="none" stroke="#000" stroke-width="1.25" stroke-linejoin="round"/>
<polyline points="330.82,276.78 352.85,276.78 374.88,319.50 396.92,358.66 418.95,394.26 440.98,412.06 463.02,419.18 485.05,422.74 507.08,422.74" fill="none" stroke="#000" stroke-width="1.25" stroke-linejoin="round"/>
<polyline points="330.82,283.90 352.85,283.90 374.88,298.14 396.92,347.98 418.95,380.02 440.98,405.65 463.02,419.18 485.05,422.03 507.08,422.74" fill="none" stroke="#000" stroke-width="1.25" stroke-linejoin="round"/>
<polyline points="330.82,283.90 352.85,283.90 374.88,283.90 396.92,287.46 418.95,298.14 440.98,312.38 463.02,333.74 485.05,390.70 507.08,404.94" fill="none" stroke="#000" stroke-width="1.25" stroke-linejoin="round"/>
<rect x="328.12" y="281.20" width="5.40" height="5.40" fill="#fff" stroke="#000" stroke-width="0.9"/>
<rect x="350.15" y="281.20" width="5.40" height="5.40" fill="#fff" stroke="#000" stroke-width="0.9"/>
<rect x="372.18" y="281.20" width="5.40" height="5.40" fill="#fff" stroke="#000" stroke-width="0.9"/>
<rect x="394.22" y="288.32" width="5.40" height="5.40" fill="#fff" stroke="#000" stroke-width="0.9"/>
<rect x="416.25" y="290.10" width="5.40" height="5.40" fill="#fff" stroke="#000" stroke-width="0.9"/>
<rect x="438.28" y="306.12" width="5.40" height="5.40" fill="#fff" stroke="#000" stroke-width="0.9"/>
<rect x="460.32" y="335.31" width="5.40" height="5.40" fill="#fff" stroke="#000" stroke-width="0.9"/>
<rect x="482.35" y="391.56" width="5.40" height="5.40" fill="#fff" stroke="#000" stroke-width="0.9"/>
<rect x="504.38" y="406.51" width="5.40" height="5.40" fill="#fff" stroke="#000" stroke-width="0.9"/>
<rect x="328.07" y="274.03" width="5.50" height="5.50" fill="#000" stroke="#000" stroke-width="0.9"/>
<rect x="350.10" y="274.03" width="5.50" height="5.50" fill="#000" stroke="#000" stroke-width="0.9"/>
<rect x="372.13" y="316.75" width="5.50" height="5.50" fill="#000" stroke="#000" stroke-width="0.9"/>
<rect x="394.17" y="355.91" width="5.50" height="5.50" fill="#000" stroke="#000" stroke-width="0.9"/>
<rect x="416.20" y="391.51" width="5.50" height="5.50" fill="#000" stroke="#000" stroke-width="0.9"/>
<rect x="438.23" y="409.31" width="5.50" height="5.50" fill="#000" stroke="#000" stroke-width="0.9"/>
<rect x="460.27" y="416.43" width="5.50" height="5.50" fill="#000" stroke="#000" stroke-width="0.9"/>
<rect x="482.30" y="419.99" width="5.50" height="5.50" fill="#000" stroke="#000" stroke-width="0.9"/>
<rect x="504.33" y="419.99" width="5.50" height="5.50" fill="#000" stroke="#000" stroke-width="0.9"/>
<polygon points="330.82,280.91 333.62,286.06 328.02,286.06" fill="#000" stroke="#000" stroke-width="0.9" stroke-linejoin="miter"/>
<polygon points="352.85,280.91 355.65,286.06 350.05,286.06" fill="#000" stroke="#000" stroke-width="0.9" stroke-linejoin="miter"/>
<polygon points="374.88,295.15 377.68,300.30 372.08,300.30" fill="#000" stroke="#000" stroke-width="0.9" stroke-linejoin="miter"/>
<polygon points="396.92,344.99 399.72,350.14 394.12,350.14" fill="#000" stroke="#000" stroke-width="0.9" stroke-linejoin="miter"/>
<polygon points="418.95,377.03 421.75,382.18 416.15,382.18" fill="#000" stroke="#000" stroke-width="0.9" stroke-linejoin="miter"/>
<polygon points="440.98,402.66 443.78,407.82 438.18,407.82" fill="#000" stroke="#000" stroke-width="0.9" stroke-linejoin="miter"/>
<polygon points="463.02,416.19 465.82,421.34 460.22,421.34" fill="#000" stroke="#000" stroke-width="0.9" stroke-linejoin="miter"/>
<polygon points="485.05,419.04 487.85,424.19 482.25,424.19" fill="#000" stroke="#000" stroke-width="0.9" stroke-linejoin="miter"/>
<polygon points="507.08,419.75 509.88,424.90 504.28,424.90" fill="#000" stroke="#000" stroke-width="0.9" stroke-linejoin="miter"/>
<polygon points="330.82,280.91 333.62,286.06 328.02,286.06" fill="#fff" stroke="#000" stroke-width="0.9" stroke-linejoin="miter"/>
<polygon points="352.85,280.91 355.65,286.06 350.05,286.06" fill="#fff" stroke="#000" stroke-width="0.9" stroke-linejoin="miter"/>
<polygon points="374.88,280.91 377.68,286.06 372.08,286.06" fill="#fff" stroke="#000" stroke-width="0.9" stroke-linejoin="miter"/>
<polygon points="396.92,284.47 399.72,289.62 394.12,289.62" fill="#fff" stroke="#000" stroke-width="0.9" stroke-linejoin="miter"/>
<polygon points="418.95,295.15 421.75,300.30 416.15,300.30" fill="#fff" stroke="#000" stroke-width="0.9" stroke-linejoin="miter"/>
<polygon points="440.98,309.39 443.78,314.54 438.18,314.54" fill="#fff" stroke="#000" stroke-width="0.9" stroke-linejoin="miter"/>
<polygon points="463.02,330.75 465.82,335.90 460.22,335.90" fill="#fff" stroke="#000" stroke-width="0.9" stroke-linejoin="miter"/>
<polygon points="485.05,387.71 487.85,392.86 482.25,392.86" fill="#fff" stroke="#000" stroke-width="0.9" stroke-linejoin="miter"/>
<polygon points="507.08,401.95 509.88,407.10 504.28,407.10" fill="#fff" stroke="#000" stroke-width="0.9" stroke-linejoin="miter"/>
<line x1="438.70" y1="248.00" x2="458.50" y2="248.00" stroke="#000" stroke-width="1.0"/>
<rect x="446.55" y="245.55" width="4.90" height="4.90" fill="#fff" stroke="#000" stroke-width="0.85"/>
<text x="461.10" y="251.41" font-size="7.25" text-anchor="start">Male</text>
<line x1="438.70" y1="259.70" x2="458.50" y2="259.70" stroke="#000" stroke-width="1.0"/>
<rect x="446.85" y="257.55" width="4.30" height="4.30" fill="#000" stroke="#000" stroke-width="0.85"/>
<text x="461.10" y="263.11" font-size="7.25" text-anchor="start">Female</text>
<line x1="438.70" y1="271.40" x2="458.50" y2="271.40" stroke="#000" stroke-width="1.0"/>
<polygon points="449.00,269.00 451.25,273.14 446.75,273.14" fill="#000" stroke="#000" stroke-width="0.85" stroke-linejoin="miter"/>
<text x="461.10" y="274.81" font-size="7.25" text-anchor="start">Male + E2</text>
<line x1="438.70" y1="283.10" x2="458.50" y2="283.10" stroke="#000" stroke-width="1.0"/>
<polygon points="449.00,280.49 451.45,284.99 446.55,284.99" fill="#fff" stroke="#000" stroke-width="0.85" stroke-linejoin="miter"/>
<text x="461.10" y="286.51" font-size="7.25" text-anchor="start">Male + E2 + ICI</text>
<text x="330.82" y="443.05" font-size="8.2" font-weight="bold" text-anchor="middle">0</text>
<text x="352.85" y="442.37" font-size="7.7" font-weight="bold" text-anchor="middle">10</text>
<text x="357.25" y="437.50" font-size="4.7" font-weight="bold" text-anchor="start">-13</text>
<text x="374.88" y="442.37" font-size="7.7" font-weight="bold" text-anchor="middle">10</text>
<text x="379.28" y="437.50" font-size="4.7" font-weight="bold" text-anchor="start">-12</text>
<text x="396.92" y="442.37" font-size="7.7" font-weight="bold" text-anchor="middle">10</text>
<text x="401.32" y="437.50" font-size="4.7" font-weight="bold" text-anchor="start">-11</text>
<text x="418.95" y="442.37" font-size="7.7" font-weight="bold" text-anchor="middle">10</text>
<text x="423.35" y="437.50" font-size="4.7" font-weight="bold" text-anchor="start">-10</text>
<text x="440.98" y="442.37" font-size="7.7" font-weight="bold" text-anchor="middle">10</text>
<text x="445.38" y="437.50" font-size="4.7" font-weight="bold" text-anchor="start">-9</text>
<text x="463.02" y="442.37" font-size="7.7" font-weight="bold" text-anchor="middle">10</text>
<text x="467.42" y="437.50" font-size="4.7" font-weight="bold" text-anchor="start">-8</text>
<text x="485.05" y="442.37" font-size="7.7" font-weight="bold" text-anchor="middle">10</text>
<text x="489.45" y="437.50" font-size="4.7" font-weight="bold" text-anchor="start">-7</text>
<text x="507.08" y="442.37" font-size="7.7" font-weight="bold" text-anchor="middle">10</text>
<text x="511.48" y="437.50" font-size="4.7" font-weight="bold" text-anchor="start">-6</text>
<text x="342.2" y="457.9" font-size="8.25" font-weight="bold">Concentration 1,25(OH)<tspan font-size="5.6" dy="1.8">2</tspan><tspan dy="-1.8"> Vit D (mol/l)</tspan></text>
<text transform="translate(282.2,329.0) rotate(-90)" x="0" y="0" font-size="8.25" font-weight="bold" text-anchor="middle">Proliferation (CPM)</text>
<text x="0.50" y="492.20" font-size="16" text-anchor="start">E</text>
<path d="M105.10,479.30 Q106.70,479.20 106.70,480.80 L106.70,619.30" fill="none" stroke="#000" stroke-width="1.7" stroke-linejoin="round" stroke-linecap="round"/>
<path d="M106.70,619.30 L248.10,619.30 Q249.30,619.30 249.60,620.70" fill="none" stroke="#000" stroke-width="1.7" stroke-linejoin="round" stroke-linecap="round"/>
<circle cx="106.40" cy="619.60" r="1.25" fill="#000"/>
<line x1="104.90" y1="502.88" x2="106.70" y2="502.88" stroke="#000" stroke-width="1.2"/>
<line x1="104.90" y1="526.17" x2="106.70" y2="526.17" stroke="#000" stroke-width="1.2"/>
<line x1="104.90" y1="549.45" x2="106.70" y2="549.45" stroke="#000" stroke-width="1.2"/>
<line x1="104.90" y1="572.73" x2="106.70" y2="572.73" stroke="#000" stroke-width="1.2"/>
<line x1="104.90" y1="596.02" x2="106.70" y2="596.02" stroke="#000" stroke-width="1.2"/>
<line x1="142.35" y1="619.30" x2="142.35" y2="621.10" stroke="#000" stroke-width="1.2"/>
<line x1="178.00" y1="619.30" x2="178.00" y2="621.10" stroke="#000" stroke-width="1.2"/>
<line x1="213.65" y1="619.30" x2="213.65" y2="621.10" stroke="#000" stroke-width="1.2"/>
<text x="106.70" y="636.15" font-size="8.2" font-weight="bold" text-anchor="middle">0</text>
<text x="142.35" y="636.15" font-size="8.2" font-weight="bold" text-anchor="middle">100</text>
<text x="178.00" y="636.15" font-size="8.2" font-weight="bold" text-anchor="middle">200</text>
<text x="213.65" y="636.15" font-size="8.2" font-weight="bold" text-anchor="middle">300</text>
<text x="249.30" y="636.15" font-size="8.2" font-weight="bold" text-anchor="middle">400</text>
<text x="98.30" y="495.23" font-size="8.3" font-weight="bold" text-anchor="end">Female</text>
<rect x="106.70" y="486.44" width="18.00" height="9.6" fill="#000"/>
<line x1="124.70" y1="491.24" x2="126.91" y2="491.24" stroke="#000" stroke-width="0.85"/>
<line x1="126.91" y1="488.84" x2="126.91" y2="493.64" stroke="#000" stroke-width="1.1"/>
<text x="98.30" y="518.51" font-size="8.3" font-weight="bold" text-anchor="end">Female + Vit D</text>
<rect x="106.70" y="509.72" width="96.79" height="9.6" fill="#000"/>
<line x1="203.49" y1="514.52" x2="212.76" y2="514.52" stroke="#000" stroke-width="0.85"/>
<line x1="212.76" y1="512.12" x2="212.76" y2="516.92" stroke="#000" stroke-width="1.1"/>
<text x="98.30" y="541.80" font-size="8.3" font-weight="bold" text-anchor="end">Male</text>
<rect x="106.70" y="533.01" width="17.36" height="9.6" fill="#000"/>
<line x1="124.06" y1="537.81" x2="126.20" y2="537.81" stroke="#000" stroke-width="0.85"/>
<line x1="126.20" y1="535.41" x2="126.20" y2="540.21" stroke="#000" stroke-width="1.1"/>
<text x="98.30" y="565.08" font-size="8.3" font-weight="bold" text-anchor="end">Male + Vit D</text>
<rect x="106.70" y="556.29" width="30.84" height="9.6" fill="#000"/>
<line x1="137.54" y1="561.09" x2="140.35" y2="561.09" stroke="#000" stroke-width="0.85"/>
<line x1="140.35" y1="558.69" x2="140.35" y2="563.49" stroke="#000" stroke-width="1.1"/>
<text x="98.30" y="588.36" font-size="8.3" font-weight="bold" text-anchor="end">Male + Vit D + E2</text>
<rect x="106.70" y="579.58" width="84.10" height="9.6" fill="#000"/>
<line x1="190.80" y1="584.38" x2="199.28" y2="584.38" stroke="#000" stroke-width="0.85"/>
<line x1="199.28" y1="581.98" x2="199.28" y2="586.77" stroke="#000" stroke-width="1.1"/>
<text x="98.30" y="611.65" font-size="8.3" font-weight="bold" text-anchor="end">Male + Vit D + E2 + ICI</text>
<rect x="106.70" y="602.86" width="31.44" height="9.6" fill="#000"/>
<line x1="138.14" y1="607.66" x2="141.85" y2="607.66" stroke="#000" stroke-width="0.85"/>
<line x1="141.85" y1="605.26" x2="141.85" y2="610.06" stroke="#000" stroke-width="1.1"/>
<text x="139.8" y="645.0" font-size="8.3" font-weight="bold" text-anchor="middle">Number of IL-10 secreting cells</text>
<text x="271.50" y="492.20" font-size="16" text-anchor="start">F</text>
<path d="M376.60,479.30 Q378.20,479.20 378.20,480.80 L378.20,619.40" fill="none" stroke="#000" stroke-width="1.7" stroke-linejoin="round" stroke-linecap="round"/>
<path d="M378.20,619.40 L513.32,619.40 Q514.52,619.40 514.82,620.80" fill="none" stroke="#000" stroke-width="1.7" stroke-linejoin="round" stroke-linecap="round"/>
<circle cx="377.90" cy="619.70" r="1.25" fill="#000"/>
<line x1="376.40" y1="502.90" x2="378.20" y2="502.90" stroke="#000" stroke-width="1.2"/>
<line x1="376.40" y1="526.20" x2="378.20" y2="526.20" stroke="#000" stroke-width="1.2"/>
<line x1="376.40" y1="549.50" x2="378.20" y2="549.50" stroke="#000" stroke-width="1.2"/>
<line x1="376.40" y1="572.80" x2="378.20" y2="572.80" stroke="#000" stroke-width="1.2"/>
<line x1="376.40" y1="596.10" x2="378.20" y2="596.10" stroke="#000" stroke-width="1.2"/>
<line x1="400.92" y1="619.40" x2="400.92" y2="621.20" stroke="#000" stroke-width="1.2"/>
<line x1="423.64" y1="619.40" x2="423.64" y2="621.20" stroke="#000" stroke-width="1.2"/>
<line x1="446.36" y1="619.40" x2="446.36" y2="621.20" stroke="#000" stroke-width="1.2"/>
<line x1="469.08" y1="619.40" x2="469.08" y2="621.20" stroke="#000" stroke-width="1.2"/>
<line x1="491.80" y1="619.40" x2="491.80" y2="621.20" stroke="#000" stroke-width="1.2"/>
<text x="378.20" y="636.15" font-size="8.2" font-weight="bold" text-anchor="middle">0</text>
<text x="423.64" y="636.15" font-size="8.2" font-weight="bold" text-anchor="middle">20</text>
<text x="469.08" y="636.15" font-size="8.2" font-weight="bold" text-anchor="middle">40</text>
<text x="514.52" y="636.15" font-size="8.2" font-weight="bold" text-anchor="middle">60</text>
<text x="369.40" y="495.24" font-size="8.3" font-weight="bold" text-anchor="end">Female</text>
<rect x="378.20" y="486.45" width="11.70" height="9.6" fill="#000"/>
<line x1="389.90" y1="491.25" x2="391.60" y2="491.25" stroke="#000" stroke-width="0.85"/>
<line x1="391.60" y1="488.85" x2="391.60" y2="493.65" stroke="#000" stroke-width="1.1"/>
<text x="369.40" y="518.54" font-size="8.3" font-weight="bold" text-anchor="end">Female + Vit D</text>
<rect x="378.20" y="509.75" width="102.69" height="9.6" fill="#000"/>
<line x1="480.89" y1="514.55" x2="494.07" y2="514.55" stroke="#000" stroke-width="0.85"/>
<line x1="494.07" y1="512.15" x2="494.07" y2="516.95" stroke="#000" stroke-width="1.1"/>
<text x="369.40" y="541.84" font-size="8.3" font-weight="bold" text-anchor="end">Male</text>
<rect x="378.20" y="533.05" width="13.86" height="9.6" fill="#000"/>
<line x1="392.06" y1="537.85" x2="393.65" y2="537.85" stroke="#000" stroke-width="0.85"/>
<line x1="393.65" y1="535.45" x2="393.65" y2="540.25" stroke="#000" stroke-width="1.1"/>
<text x="369.40" y="565.14" font-size="8.3" font-weight="bold" text-anchor="end">Male + Vit D</text>
<rect x="378.20" y="556.35" width="29.54" height="9.6" fill="#000"/>
<line x1="407.74" y1="561.15" x2="411.83" y2="561.15" stroke="#000" stroke-width="0.85"/>
<line x1="411.83" y1="558.75" x2="411.83" y2="563.55" stroke="#000" stroke-width="1.1"/>
<text x="369.40" y="588.44" font-size="8.3" font-weight="bold" text-anchor="end">Male + Vit D + E2</text>
<rect x="378.20" y="579.65" width="91.11" height="9.6" fill="#000"/>
<line x1="469.31" y1="584.45" x2="480.89" y2="584.45" stroke="#000" stroke-width="0.85"/>
<line x1="480.89" y1="582.05" x2="480.89" y2="586.85" stroke="#000" stroke-width="1.1"/>
<text x="369.40" y="611.74" font-size="8.3" font-weight="bold" text-anchor="end">Male + Vit D + E2 + ICI</text>
<rect x="378.20" y="602.95" width="27.95" height="9.6" fill="#000"/>
<line x1="406.15" y1="607.75" x2="409.78" y2="607.75" stroke="#000" stroke-width="0.85"/>
<line x1="409.78" y1="605.35" x2="409.78" y2="610.15" stroke="#000" stroke-width="1.1"/>
<text x="345" y="645.1" font-size="8.3" font-weight="bold">%CD4<tspan font-size="5.2" dy="-3.4">+</tspan><tspan dy="3.4">CD25</tspan><tspan font-size="5.2" dy="-3.4">+</tspan><tspan dy="3.4">FoxP3</tspan><tspan font-size="5.2" dy="-3.4">+</tspan><tspan dy="3.4"> regulatory T cells</tspan></text>
</svg></body></html>
